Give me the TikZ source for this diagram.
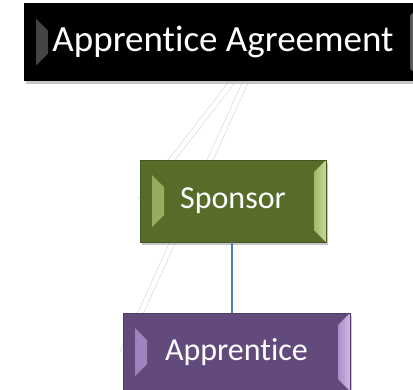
\documentclass[tikz,border=0pt]{standalone}
\usepackage{fontspec}
\setmainfont{Carlito}[Ligatures={NoCommon}]
\usepackage{tikz}
\usetikzlibrary{shadows}
\usetikzlibrary{backgrounds}
\usetikzlibrary{calc}
\definecolor{olv}{RGB}{88, 108, 42}
\definecolor{olvlt}{RGB}{185, 210, 125}
\definecolor{prp}{RGB}{98, 74, 124}
\definecolor{prplt}{RGB}{192, 166, 228}
\definecolor{blk}{RGB}{0, 0, 0}
\definecolor{blklt}{RGB}{110, 110, 110}
\definecolor{lnk}{RGB}{74, 126, 187}

\begin{document}
\begin{tikzpicture}[x=1pt, y=1pt,
        bevel/.style 2 args={rectangle, inner sep=0pt, fill=#1, draw=#1!80!black, text=white,
            drop shadow={shadow xshift=2pt, shadow yshift=-3pt, opacity=0.45},
            path picture={
                \shade[left color=#1!40!#2, right color=#2] ([shift={(12pt,-15pt)}]path picture bounding box.north west) -- ++(12pt,-12pt)
                    -- ([shift={(24pt,27pt)}]path picture bounding box.south west) -- ++(-12pt,-12pt) -- cycle;
                \shade[left color=#2!75!#1, right color=#2!80!white] ([shift={(-12pt,-12pt)}]path picture bounding box.north east)
                    -- (path picture bounding box.north east) -- (path picture bounding box.south east)
                    -- ([shift={(-12pt,12pt)}]path picture bounding box.south east) -- cycle;
            }},
        hidden/.style={draw=gray!45, line width=0.4pt, double=white, double distance=5pt},
        link/.style={draw=lnk, line width=1.2pt}]
        \clip (0,0) rectangle (413,-389);
        \node[bevel={blk}{blklt}, minimum width=398pt, minimum height=77pt, font=\fontsize{37}{42}\selectfont] (agree) at (223,-42) {Apprentice Agreement};
        \node[bevel={olv}{olvlt}, minimum width=186pt, minimum height=82pt, font=\fontsize{32}{38}\selectfont] (sponsor) at (233,-201) {Sponsor};
        \node[bevel={prp}{prplt}, minimum width=227pt, minimum height=78pt, font=\fontsize{32}{38}\selectfont] (apprentice) at (236.5,-352) {Apprentice};
        \begin{scope}[on background layer]
            \draw[hidden] ([xshift=10pt]agree.south) -- (sponsor.west);
            \draw[hidden] ([xshift=23pt]agree.south) -- (apprentice.west);
        \end{scope}
        % \draw[link] (agree) -- (sponsor);
        \draw[link] ([xshift=-1pt]sponsor.south) -- ([xshift=-1pt]sponsor.south |- apprentice.north);
    \end{tikzpicture}
\end{document}
